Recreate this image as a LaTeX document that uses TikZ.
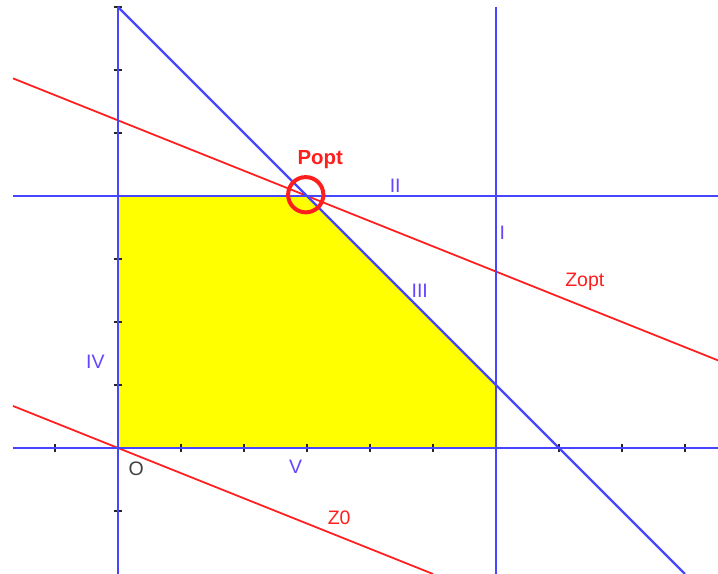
\documentclass[tikz,border=0pt]{standalone}
\usepackage{fontspec}
\setmainfont{Liberation Sans}
\begin{document}
\begin{tikzpicture}[x=1cm,y=1cm,
  bl/.style={draw=blueline,line width=1.05pt},
  rd/.style={draw=redline,line width=0.8pt},
  tk/.style={draw=black!85,line width=0.9pt},
  lblb/.style={text=bluetext,font=\fontsize{8.8}{10}\selectfont,inner sep=0pt},
  lblr/.style={text=redline,font=\fontsize{8.8}{10}\selectfont,inner sep=0pt}]
\definecolor{blueline}{RGB}{70,70,255}
\definecolor{bluetext}{RGB}{100,70,255}
\definecolor{redline}{RGB}{255,30,30}
\definecolor{fillyellow}{RGB}{255,255,0}
\useasboundingbox[fill=white] (-1.873,-2) rectangle (9.524,7.111);
% feasible region
\fill[fillyellow,draw=black!60,line width=0.3pt] (0,0) -- (6,0) -- (6,1) -- (3,4) -- (0,4) -- cycle;
% coordinates
\coordinate (xl) at (-1.667,0);
\coordinate (xr) at (9.524,0);
\coordinate (yt) at (0,7);
\coordinate (yb) at (0,-2);
\coordinate (It) at (6,7);
\coordinate (Ib) at (6,-2);
\coordinate (IIl) at (-1.667,4);
\coordinate (IIr) at (9.524,4);
\coordinate (IIIt) at (0,7);
\coordinate (IIIb) at (9,-2);
\coordinate (Zl) at (-1.667,5.8668);
\coordinate (Zr) at (9.524,1.3904);
\coordinate (Z0l) at (-1.667,0.6668);
\coordinate (Z0r) at (5,-2);
% red lines
\draw[rd] (Zl) -- (Zr);
\draw[rd] (Z0l) -- (Z0r);
% ticks
\foreach \i in {-1,1,2,3,4,5,7,8,9} \draw[tk] (\i,-0.065) -- (\i,0.065);
\foreach \j in {-1,1,2,3,5,6,7} \draw[tk] (-0.07,\j) -- (0.07,\j);
% blue lines
\draw[bl] (xl) -- (xr);
\draw[bl] (yt) -- (yb);
\draw[bl] (It) -- (Ib);
\draw[bl] (IIl) -- (IIr);
\draw[bl] (IIIt) -- (IIIb);
% optimum
\node[draw=redline,line width=1.8pt,circle,minimum size=0.56cm,inner sep=0pt] (popt) at (2.98,4.02) {};
\node[lblr,font=\fontsize{9.2}{10}\selectfont\bfseries] (poptl) at (3.21,4.57) {Popt};
% labels
\node[lblb] (lII) at (4.40,4.16) {II};
\node[lblb] (lI) at (6.10,3.41) {I};
\node[lblb] (lIII) at (4.79,2.49) {III};
\node[lblb] (lIV) at (-0.36,1.37) {IV};
\node[lblb] (lV) at (2.82,-0.30) {V};
\node[text=black!75,font=\fontsize{8.8}{10}\selectfont,inner sep=0pt] (lO) at (0.29,-0.33) {O};
\node[lblr] (lZopt) at (7.41,2.63) {Zopt};
\node[lblr] (lZ0) at (3.51,-1.11) {Z0};
\end{tikzpicture}
\end{document}
